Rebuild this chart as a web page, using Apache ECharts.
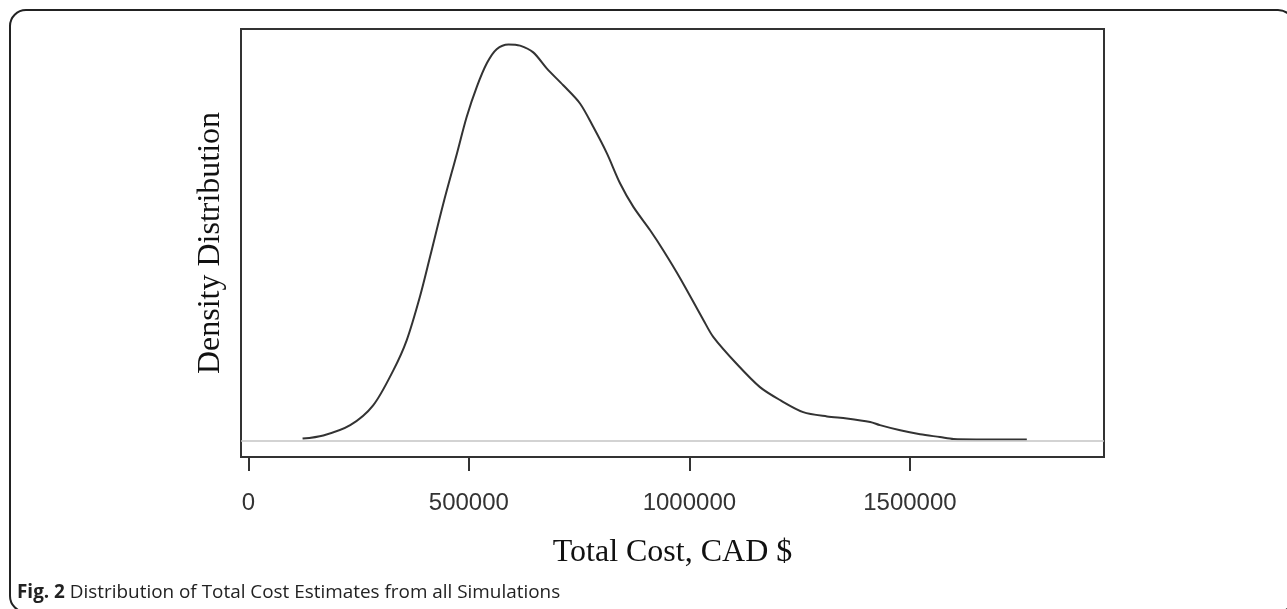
<!DOCTYPE html>
<html>
<head>
<meta charset="utf-8">
<script src="https://cdn.jsdelivr.net/npm/echarts@6/dist/echarts.min.js"></script>
<style>
html,body{margin:0;padding:0;background:#fff;}
#chart{width:1287px;height:609px;}
</style>
</head>
<body>
<div id="chart"></div>
<script>
// Total cost (CAD $) sample points along the density curve
const costValues = [123000,170000,231000,283000,329000,359000,389000,412000,442000,473000,495000,518000,541000,563000,590000,616000,646000,677000,714000,752000,782000,813000,843000,873000,911000,941000,979000,1032000,1054000,1107000,1160000,1206000,1258000,1312000,1357000,1410000,1432000,1478000,1523000,1568000,1599000,1650000,1700000,1765000];
// Relative density (peak = 1)
const densityValues = [0.005,0.013,0.039,0.089,0.178,0.253,0.363,0.464,0.598,0.725,0.817,0.893,0.953,0.988,1.000,0.997,0.980,0.939,0.897,0.851,0.792,0.725,0.649,0.590,0.531,0.480,0.410,0.304,0.262,0.194,0.135,0.102,0.072,0.061,0.056,0.047,0.039,0.026,0.016,0.009,0.004,0.003,0.003,0.003];
const xTickValues = [0, 500000, 1000000, 1500000];
const xTitle = 'Total Cost, CAD $';
const yTitle = 'Density Distribution';
const captionBold = 'Fig. 2';
const captionText = 'Distribution of Total Cost Estimates from all Simulations';

const seriesData = costValues.map((c, i) => [c, densityValues[i]]);

const chart = echarts.init(document.getElementById('chart'), null, {renderer: 'canvas'});
chart.setOption({
  animation: false,
  backgroundColor: '#fff',
  title: {
    text: '{b|' + captionBold + '} ' + captionText,
    left: 12,
    top: 578,
    textStyle: {
      fontFamily: 'Open Sans',
      fontSize: 18.9,
      fontWeight: 'normal',
      color: '#222',
      rich: {
        b: {fontFamily: 'Open Sans', fontSize: 18.9, fontWeight: 'bold', color: '#222'}
      }
    }
  },
  graphic: [{
    type: 'rect',
    shape: {x: 10, y: 10, width: 1284, height: 602, r: 16},
    style: {fill: 'none', stroke: '#222', lineWidth: 2},
    silent: true,
    z: 100
  }],
  grid: {
    left: 241, top: 29, right: 183, bottom: 152,
    show: true, borderColor: '#333', borderWidth: 2, backgroundColor: 'transparent'
  },
  xAxis: {
    type: 'value',
    min: -16600,
    max: 1940000,
    axisLine: {show: false, onZero: false},
    splitLine: {show: false},
    axisTick: {
      show: true, customValues: xTickValues, length: 14, inside: false,
      lineStyle: {color: '#333', width: 2}
    },
    axisLabel: {
      show: true, customValues: xTickValues, margin: 34,
      fontFamily: 'Liberation Sans', fontSize: 24, color: '#333',
      formatter: v => String(v)
    },
    name: xTitle,
    nameLocation: 'middle',
    nameGap: 80,
    nameTextStyle: {fontFamily: 'Liberation Serif', fontSize: 32, color: '#111'}
  },
  yAxis: {
    type: 'value',
    min: -0.0414,
    max: 1.039,
    axisLine: {show: false, onZero: false},
    axisTick: {show: false},
    axisLabel: {show: false},
    splitLine: {show: false},
    name: yTitle,
    nameLocation: 'middle',
    nameRotate: 90,
    nameGap: 14,
    nameTextStyle: {fontFamily: 'Liberation Serif', fontSize: 32, color: '#111'}
  },
  series: [{
    type: 'line',
    data: seriesData,
    smooth: 0.3,
    showSymbol: false,
    lineStyle: {color: '#333', width: 2},
    markLine: {
      silent: true,
      symbol: 'none',
      label: {show: false},
      lineStyle: {color: '#c4c4c4', width: 1.5, type: 'solid'},
      data: [{yAxis: 0}]
    },
    z: 3
  }]
});
</script>
</body>
</html>
